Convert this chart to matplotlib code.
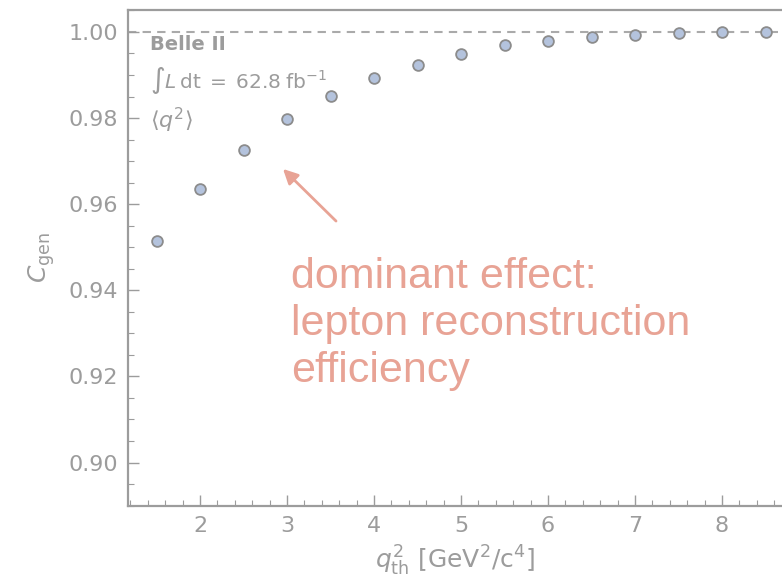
import matplotlib
matplotlib.use("Agg")
import matplotlib.pyplot as plt
from matplotlib.ticker import MultipleLocator, FormatStrFormatter

plt.rcParams['font.family'] = ['DejaVu Sans']
plt.rcParams['mathtext.fontset'] = 'dejavusans'

q2_th = [1.5, 2.0, 2.5, 3.0, 3.5, 4.0, 4.5, 5.0, 5.5, 6.0, 6.5, 7.0, 7.5, 8.0, 8.5]
c_gen = [0.9515, 0.9636, 0.9727, 0.9797, 0.9852, 0.9894, 0.9923, 0.9949, 0.9969,
         0.9979, 0.9989, 0.9993, 0.9997, 0.9999, 1.0000]
x_ticks = [2, 3, 4, 5, 6, 7, 8]

grey = '#9c9c9c'
salmon = '#e8a395'

fig = plt.figure(figsize=(7.82, 5.79), dpi=100)
ax = fig.add_axes([128/782, 73/579, 681/782, 496/579])
ax.set_xlim(1.172, 9.0)
ax.set_ylim(0.8899, 1.0051)

ax.axhline(1.0, color='#aaaaaa', lw=1.5, ls=(0, (4, 3)), zorder=1)
ax.scatter(q2_th, c_gen, s=60, facecolor='#b4c3dd', edgecolor='#8c8c8c', lw=1.3, zorder=3)

for s in ax.spines.values():
    s.set_color(grey)
    s.set_linewidth(1.6)

ax.xaxis.set_major_locator(MultipleLocator(1))
ax.xaxis.set_minor_locator(MultipleLocator(0.2))
ax.yaxis.set_major_locator(MultipleLocator(0.02))
ax.yaxis.set_minor_locator(MultipleLocator(0.005))
ax.tick_params(which='both', direction='in', color=grey, labelcolor=grey, labelsize=16,
               top=False, right=False)
ax.tick_params(which='major', length=8, width=1.0, pad=7)
ax.tick_params(which='minor', length=4, width=0.8)
ax.yaxis.set_major_formatter(FormatStrFormatter('%.2f'))
ax.set_xticks(x_ticks)

ax.set_xlabel(r'$q^2_{\mathrm{th}}$ [GeV$^2$/c$^4$]', color=grey, fontsize=18)
ax.set_ylabel(r'$C_{\mathrm{gen}}$', color=grey, fontsize=18)
ax.yaxis.set_label_coords(-0.104, 0.5)
ax.xaxis.set_label_coords(0.48, -0.076)

ax.text(150/782, 1 - 45/579, 'Belle II', transform=fig.transFigure, color=grey,
        fontsize=14, fontweight='bold', va='center', ha='left')
ax.text(150/782, 1 - 80/579, r'$\int L\,\mathrm{dt}\;=\;62.8\;\mathrm{fb}^{-1}$',
        transform=fig.transFigure, color=grey, fontsize=14.5, va='center', ha='left')
ax.text(150/782, 1 - 120/579, r'$\langle q^2\rangle$', transform=fig.transFigure,
        color=grey, fontsize=16, va='center', ha='left')

ax.annotate('', xy=(281/782, 1 - 167/579), xytext=(338/782, 1 - 223/579),
            xycoords='figure fraction', textcoords='figure fraction',
            arrowprops=dict(arrowstyle='-|>', color=salmon, lw=2, mutation_scale=22))
ax.text(291/782, 1 - 382/579, 'dominant effect:\nlepton reconstruction\nefficiency',
        transform=fig.transFigure, color=salmon, fontsize=31, va='baseline', ha='left',
        linespacing=1.23, family=['Liberation Sans', 'DejaVu Sans'])

fig.savefig('out.png', dpi=100)
